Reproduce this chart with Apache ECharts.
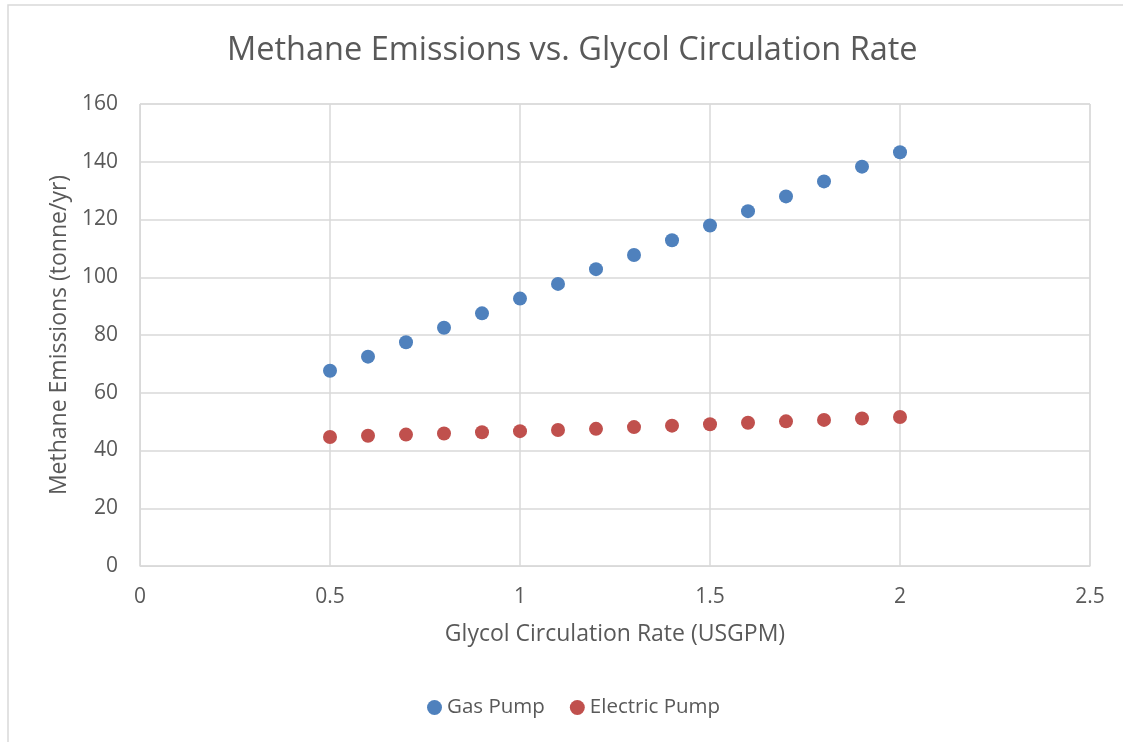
<!DOCTYPE html>
<html>
<head>
<meta charset="utf-8">
<script src="https://cdn.jsdelivr.net/npm/echarts@6/dist/echarts.min.js"></script>
<style>html,body{margin:0;padding:0;background:#fff}#c{width:1123px;height:742px}</style>
</head>
<body>
<div id="c"></div>
<script>
const rates = [0.5, 0.6, 0.7, 0.8, 0.9, 1.0, 1.1, 1.2, 1.3, 1.4, 1.5, 1.6, 1.7, 1.8, 1.9, 2.0];
const gasPump = [67.6, 72.5, 77.5, 82.5, 87.5, 92.6, 97.7, 102.8, 107.7, 112.8, 117.9, 122.9, 128.0, 133.2, 138.3, 143.3];
const electricPump = [44.7, 45.1, 45.5, 45.9, 46.3, 46.7, 47.1, 47.5, 48.1, 48.6, 49.1, 49.6, 50.1, 50.6, 51.1, 51.6];
const seriesNames = ['Gas Pump', 'Electric Pump'];
const titleText = 'Methane Emissions vs. Glycol Circulation Rate';
const xName = 'Glycol Circulation Rate (USGPM)';
const yName = 'Methane Emissions (tonne/yr)';

const font = '"Open Sans", Lato, sans-serif';
const txt = '#595959';
const gridC = '#d9d9d9';
const chart = echarts.init(document.getElementById('c'));
chart.setOption({
  animation: false,
  backgroundColor: '#fff',
  graphic: [{type: 'rect', shape: {x: 8, y: 5, width: 1300, height: 900}, style: {fill: 'none', stroke: gridC, lineWidth: 1.5}, silent: true}],
  title: {text: titleText, left: 222, top: 29, textStyle: {fontFamily: font, fontSize: 32.5, fontWeight: 'normal', color: txt}},
  legend: {bottom: 19, left: 422, itemWidth: 15, itemHeight: 15, itemGap: 25, icon: 'circle',
    textStyle: {fontFamily: font, fontSize: 20.5, color: txt}, data: seriesNames},
  grid: {left: 140, right: 33, top: 104, bottom: 176, show: true, borderColor: gridC, borderWidth: 1},
  xAxis: {type: 'value', min: 0, max: 2.5, interval: 0.5, name: xName, nameLocation: 'middle', nameGap: 57,
    nameTextStyle: {fontFamily: font, fontSize: 23, color: txt},
    axisLabel: {fontFamily: font, fontSize: 21, color: txt, margin: 21},
    axisLine: {show: true, lineStyle: {color: gridC}}, axisTick: {show: false},
    splitLine: {show: true, lineStyle: {color: gridC, width: 1.5}}},
  yAxis: {type: 'value', min: 0, max: 160, interval: 20, name: yName, nameLocation: 'middle', nameGap: 66,
    nameTextStyle: {fontFamily: font, fontSize: 23, color: txt},
    axisLabel: {fontFamily: font, fontSize: 21, color: txt, margin: 22},
    axisLine: {show: true, lineStyle: {color: gridC}}, axisTick: {show: false},
    splitLine: {show: true, lineStyle: {color: gridC, width: 1.5}}},
  series: [
    {name: seriesNames[0], type: 'scatter', symbolSize: 14, itemStyle: {color: '#4f81bd', opacity: 1}, data: rates.map((r, i) => [r, gasPump[i]])},
    {name: seriesNames[1], type: 'scatter', symbolSize: 14, itemStyle: {color: '#c0504d', opacity: 1}, data: rates.map((r, i) => [r, electricPump[i]])}
  ]
});
</script>
</body>
</html>
